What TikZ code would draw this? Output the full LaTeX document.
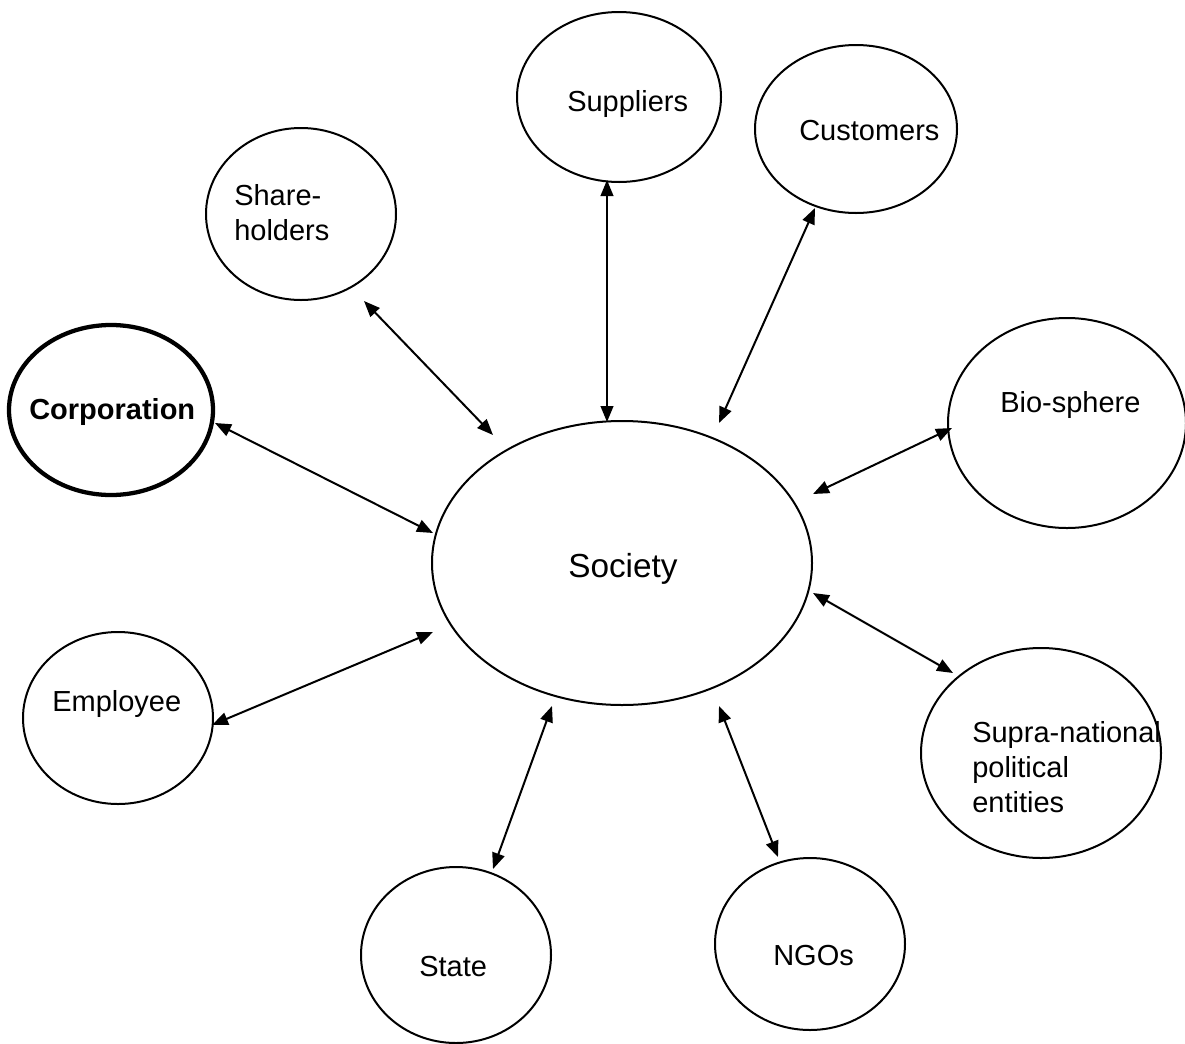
\documentclass[tikz,border=0pt]{standalone}
\usepackage{fontspec}
\setmainfont{Liberation Sans}
\usetikzlibrary{shapes.geometric,arrows.meta}
\begin{document}
\begin{tikzpicture}[x=0.75pt,y=-0.75pt,
  oval/.style={ellipse,draw,line width=1.5pt,inner sep=0pt},
  lbl/.style={anchor=base west,inner sep=0pt,font=\fontsize{21.75}{26.25}\selectfont,align=left},
  link/.style={line width=1.5pt,{Triangle[length=12pt,width=9.5pt]}-{Triangle[length=12pt,width=9.5pt]}}]
\useasboundingbox (0,0) rectangle (1185,1043);
\fill[white] (0,0) rectangle (1185,1043);
% ellipses
\node[oval,minimum width=153pt,minimum height=127.5pt] (sup) at (619,97) {};
\node[oval,minimum width=151.5pt,minimum height=126pt] (cus) at (856,129) {};
\node[oval,minimum width=142.5pt,minimum height=129pt] (sha) at (301,214) {};
\node[oval,line width=3.2pt,minimum width=153pt,minimum height=127.5pt] (cor) at (111,410) {};
\node[oval,minimum width=178.5pt,minimum height=157.5pt] (bio) at (1067,423) {};
\node[oval,minimum width=285pt,minimum height=213pt] (soc) at (622,563) {};
\node[oval,minimum width=142.5pt,minimum height=129pt] (emp) at (118,718) {};
\node[oval,minimum width=180pt,minimum height=157.5pt] (spn) at (1041,753) {};
\node[oval,minimum width=142.5pt,minimum height=132pt] (sta) at (456,955) {};
\node[oval,minimum width=142.5pt,minimum height=129pt] (ngo) at (810,944) {};
% labels (base of multi-line nodes is the last line)
\node[lbl] (supT) at (567,111) {Suppliers};
\node[lbl] (cusT) at (799,140) {Customers};
\node[lbl] (shaT) at (234,240) {Share-\\holders};
\node[lbl,font=\fontsize{21.75}{26.25}\selectfont\bfseries] (corT) at (29,419) {Corporation};
\node[lbl,font=\fontsize{25}{30}\selectfont] (socT) at (568,577) {Society};
\node[lbl] (bioT) at (1000,412) {Bio-sphere};
\node[lbl] (empT) at (52,711) {Employee};
\node[lbl] (spnT) at (972,812) {Supra-national\\political\\entities};
\node[lbl] (staT) at (419,976) {State};
\node[lbl] (ngoT) at (773,965) {NGOs};
% connector end points
\coordinate (a1) at (607,180); \coordinate (b1) at (607,422);
\coordinate (a2) at (815,208); \coordinate (b2) at (719,423);
\coordinate (a3) at (364,301); \coordinate (b3) at (493,435);
\coordinate (a4) at (215,423); \coordinate (b4) at (433,533);
\coordinate (a5) at (952,428); \coordinate (b5) at (813,494);
\coordinate (a6) at (212,725); \coordinate (b6) at (433,632);
\coordinate (a7) at (953,673); \coordinate (b7) at (813,593);
\coordinate (a8) at (493,869); \coordinate (b8) at (552,706);
\coordinate (a9) at (778,857); \coordinate (b9) at (719,706);
\foreach \i in {1,...,9} {\draw[link] (a\i) -- (b\i);}
\end{tikzpicture}
\end{document}
